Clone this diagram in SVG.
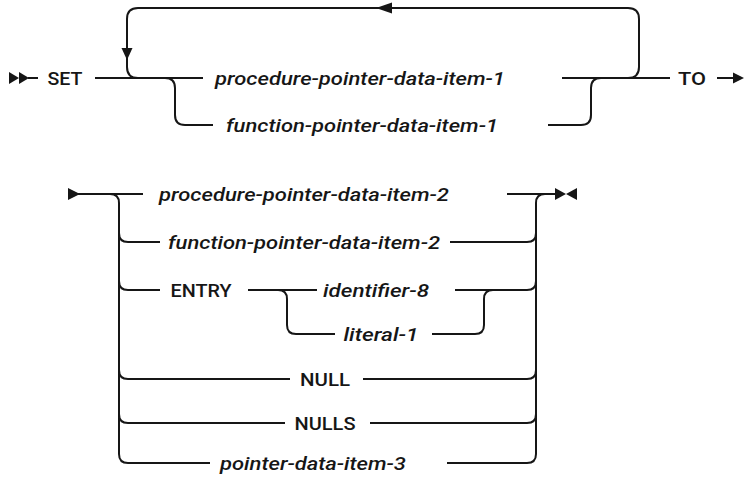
<svg xmlns="http://www.w3.org/2000/svg" width="745" height="478" viewBox="0 0 745 478">
<style>
.ln{fill:none;stroke:#161616;stroke-width:2}
.ah{fill:#161616;stroke:none}
.kw{font-family:Roboto,"Liberation Sans",Arial,sans-serif;font-size:19px;font-weight:500;fill:#161616;text-anchor:middle}
.var{font-family:Roboto,"Liberation Sans",Arial,sans-serif;font-size:19px;font-style:italic;font-weight:500;fill:#161616;text-anchor:middle}
</style>
<rect width="745" height="478" fill="#ffffff"/>
<g id="connectors">
<polygon class="ah" points="9,72 9,84 19,78"/>
<polygon class="ah" points="19,72 19,84 29,78"/>
<path class="ln" d="M28 78 H38"/>
<path class="ln" d="M95 78 H203"/>
<path class="ln" d="M562 78 H670"/>
<path class="ln" d="M628 78 Q639 78 639 67 V19 Q639 8 628 8 H138 Q127 8 127 19 V67 Q127 78 138 78"/>
<polygon class="ah" points="376,8 392,2.5 392,13.5"/>
<polygon class="ah" points="127,60 121.5,48 132.5,48"/>
<path class="ln" d="M165 78 Q175 78 175 88 V115 Q175 125 185 125 H213"/>
<path class="ln" d="M548 125 H581 Q591 125 591 115 V88 Q591 78 601 78"/>
<path class="ln" d="M717 78 H735"/>
<polygon class="ah" points="733,72.5 744,78 733,83.5"/>
<polygon class="ah" points="68,188 68,200 80,194"/>
<path class="ln" d="M78 194 H143"/>
<path class="ln" d="M110 194 Q119 194 119 203 V454 Q119 463 128 463 H210"/>
<path class="ln" d="M119 233 Q119 242 128 242 H160"/>
<path class="ln" d="M119 281 Q119 290 128 290 H160"/>
<path class="ln" d="M119 370 Q119 379 128 379 H290"/>
<path class="ln" d="M119 414 Q119 423 128 423 H285"/>
<path class="ln" d="M507 194 H557"/>
<path class="ln" d="M447 463 H527 Q536 463 536 454 V203 Q536 194 545 194"/>
<path class="ln" d="M450 242 H527 Q536 242 536 233"/>
<path class="ln" d="M455 290 H527 Q536 290 536 281"/>
<path class="ln" d="M363 379 H527 Q536 379 536 370"/>
<path class="ln" d="M370 423 H527 Q536 423 536 414"/>
<path class="ln" d="M248 290 H317"/>
<path class="ln" d="M278 290 Q287 290 287 299 V325 Q287 334 296 334 H335"/>
<path class="ln" d="M432 334 H475 Q484 334 484 325 V299 Q484 290 493 290"/>
<polygon class="ah" points="555,188 555,200 566,194"/>
<polygon class="ah" points="577,188 577,200 566,194"/>
</g>
<g id="set"><text class="kw" x="65" y="85" textLength="35" lengthAdjust="spacingAndGlyphs">SET</text></g>
<g id="proc1"><text class="var" x="360" y="85" textLength="290" lengthAdjust="spacingAndGlyphs">procedure-pointer-data-item-1</text></g>
<g id="func1"><text class="var" x="362" y="132" textLength="272" lengthAdjust="spacingAndGlyphs">function-pointer-data-item-1</text></g>
<g id="to"><text class="kw" x="692" y="85" textLength="28" lengthAdjust="spacingAndGlyphs">TO</text></g>
<g id="proc2"><text class="var" x="304" y="201" textLength="290" lengthAdjust="spacingAndGlyphs">procedure-pointer-data-item-2</text></g>
<g id="func2"><text class="var" x="304" y="249" textLength="272" lengthAdjust="spacingAndGlyphs">function-pointer-data-item-2</text></g>
<g id="entry"><text class="kw" x="201" y="297" textLength="61" lengthAdjust="spacingAndGlyphs">ENTRY</text></g>
<g id="ident8"><text class="var" x="376" y="297" textLength="106" lengthAdjust="spacingAndGlyphs">identifier-8</text></g>
<g id="lit1"><text class="var" x="381" y="341" textLength="75" lengthAdjust="spacingAndGlyphs">literal-1</text></g>
<g id="null"><text class="kw" x="325" y="386" textLength="50" lengthAdjust="spacingAndGlyphs">NULL</text></g>
<g id="nulls"><text class="kw" x="325" y="430" textLength="61" lengthAdjust="spacingAndGlyphs">NULLS</text></g>
<g id="ptr3"><text class="var" x="313" y="470" textLength="186" lengthAdjust="spacingAndGlyphs">pointer-data-item-3</text></g>
</svg>
